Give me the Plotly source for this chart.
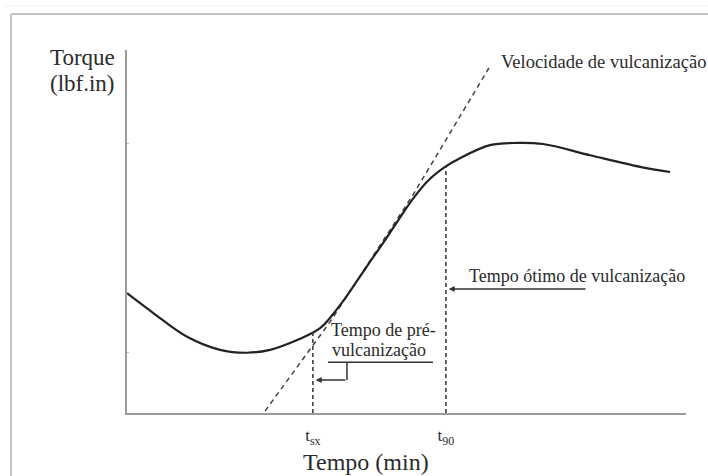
import numpy as np
import plotly.graph_objects as go

# Rheometer curve
tempo = [0.00, 0.93, 2.15, 3.33, 4.29, 5.12, 5.94, 6.91, 7.37, 7.73, 8.23, 8.69,
         9.16, 9.66, 10.23, 10.77, 11.38, 11.91, 12.99, 13.96, 14.89, 16.57, 18.36, 19.43]
torque = [16.5, 13.8, 10.5, 8.7, 8.3, 8.7, 9.8, 11.7, 13.6, 15.4, 18.2, 20.8,
          23.4, 26.3, 29.5, 32.0, 33.9, 35.1, 36.9, 37.2, 37.05, 35.5, 33.9, 33.2]

# Tangent (cure rate) dashed line, as drawn
tang_x = [4.94, 7.26, 10.23, 12.95]
tang_y = [0.28, 12.53, 30.03, 47.52]

# Characteristic times
t_sx = 6.65
t_90 = 11.41
tick_vals = [t_sx, t_90]
tick_text = ["t<sub>sx</sub>", "t<sub>90</sub>"]

FONT = "Liberation Serif, Times New Roman, serif"
INK = "#2b2b2b"
AX = "#9a9a9a"

fig = go.Figure()

fig.add_trace(go.Scatter(x=tang_x, y=tang_y, mode="lines",
                         line=dict(color="#444", width=1.5, dash="5px,4px"),
                         hoverinfo="skip"))
fig.add_trace(go.Scatter(x=tempo, y=torque, mode="lines",
                         line=dict(color="#222", width=2.2, shape="spline", smoothing=1.0),
                         hoverinfo="skip"))

y_sx = float(np.interp(t_sx, tempo, torque))
y_90 = float(np.interp(t_90, tempo, torque))
for t, yv in [(t_sx, y_sx), (t_90, y_90)]:
    fig.add_trace(go.Scatter(x=[t, t], y=[0, yv], mode="lines",
                             line=dict(color="#333", width=1.5, dash="4px,3px"),
                             hoverinfo="skip"))

shapes = [
    # outer frame
    dict(type="line", xref="paper", yref="paper", x0=-0.22, x1=1.05, y0=1.121, y1=1.121,
         line=dict(color="#f0f0f0", width=1)),
    dict(type="line", xref="paper", yref="paper", x0=-0.2075, x1=1.05, y0=1.099, y1=1.099,
         line=dict(color="#c4c4c4", width=2)),
    dict(type="line", xref="paper", yref="paper", x0=-0.2075, x1=-0.2075, y0=1.099, y1=-0.2,
         line=dict(color="#c4c4c4", width=2)),
    # pre-vulcanization bracket
    dict(type="line", x0=7.19, x1=10.95, y0=7.0, y1=7.0, line=dict(color="#333", width=1.5)),
    dict(type="line", x0=7.87, x1=7.87, y0=7.0, y1=4.55, line=dict(color="#333", width=1.5)),
]

annotations = [
    dict(text="Torque", xref="paper", yref="paper", x=-0.0805, y=0.978,
         xanchor="center", yanchor="middle",
         showarrow=False, font=dict(family=FONT, size=23, color=INK)),
    dict(text="(lbf.in)", xref="paper", yref="paper", x=-0.0805, y=0.909,
         xanchor="center", yanchor="middle",
         showarrow=False, font=dict(family=FONT, size=23, color=INK)),
    dict(text="Tempo (min)", xref="paper", yref="paper", x=0.4275, y=-0.135,
         xanchor="center", yanchor="middle",
         showarrow=False, font=dict(family=FONT, size=24, color=INK)),
    dict(text="Velocidade de vulcanização", x=13.31, y=48.35, xanchor="left", yanchor="middle",
         showarrow=False, font=dict(family=FONT, size=18.5, color=INK)),
    dict(text="Tempo ótimo de vulcanização", x=12.16, y=18.87, xanchor="left", yanchor="middle",
         showarrow=False, font=dict(family=FONT, size=18, color=INK)),
    dict(text="Tempo de pré-", x=9.19, y=11.43, xanchor="center", yanchor="middle",
         showarrow=False, font=dict(family=FONT, size=18, color=INK)),
    dict(text="vulcanização", x=9.02, y=8.68, xanchor="center", yanchor="middle",
         showarrow=False, font=dict(family=FONT, size=18, color=INK)),
    dict(text="", x=t_90 + 0.1, y=17.08, ax=16.46, ay=17.08, axref="x", ayref="y",
         showarrow=True, arrowhead=2, arrowsize=0.8, arrowwidth=1.5, arrowcolor="#333"),
    dict(text="", x=t_sx + 0.1, y=4.55, ax=7.87, ay=4.55, axref="x", ayref="y",
         showarrow=True, arrowhead=2, arrowsize=0.8, arrowwidth=1.5, arrowcolor="#333"),
]

fig.update_layout(
    width=708, height=476,
    margin=dict(l=127, r=22, t=50, b=63),
    paper_bgcolor="white", plot_bgcolor="white",
    showlegend=False,
    shapes=shapes, annotations=annotations,
    xaxis=dict(range=[0, 20], showgrid=False, zeroline=False, showline=True,
               linecolor=AX, linewidth=1.5, tickvals=tick_vals, ticktext=tick_text,
               ticks="", ticklabelstandoff=6,
               tickfont=dict(family=FONT, size=17, color=INK)),
    yaxis=dict(range=[0, 50], showgrid=False, zeroline=False, showline=True,
               linecolor=AX, linewidth=1.5, showticklabels=False,
               tickvals=[8.3, 37.1], ticks="inside", ticklen=2, tickcolor="#bbb"),
)

fig.write_html("out.html", config={"displayModeBar": False},
               post_script="document.body.style.margin='0';document.body.style.overflow='hidden';")
